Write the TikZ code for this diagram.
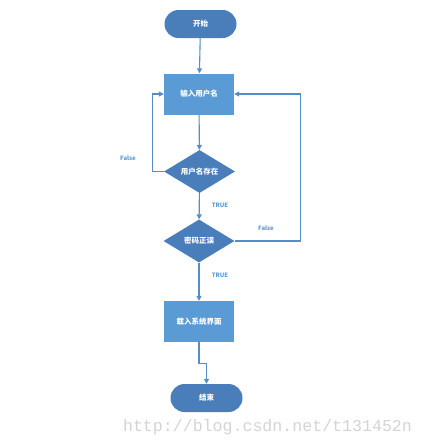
\documentclass[tikz,border=0pt]{standalone}
\usepackage{fontspec}
\newfontfamily\cjk{Noto Sans CJK SC}
\setmonofont{Liberation Mono}
\usepackage{tikz}
\usetikzlibrary{shapes,arrows.meta}
\usetikzlibrary{positioning}
\definecolor{darkblue}{RGB}{74,126,187}
\definecolor{lightblue}{RGB}{91,155,213}
\definecolor{lineblue}{RGB}{84,141,200}
\definecolor{markgray}{RGB}{212,212,212}

\begin{document}
\begin{tikzpicture}[x=1pt,y=-1pt,
    terminal/.style={rectangle,rounded corners=14pt,fill=darkblue,draw=none,
      minimum width=72pt,minimum height=28pt,text=white,font=\cjk\bfseries\fontsize{7.5}{8}\selectfont},
    process/.style={rectangle,fill=lightblue,draw=none,
      minimum width=70pt,minimum height=41pt,text=white,font=\cjk\bfseries\fontsize{7.5}{8}\selectfont},
    decision/.style={diamond,fill=darkblue,draw=none,inner sep=0pt,shape aspect=1.6,
      minimum width=71pt,minimum height=43pt,text=white,font=\cjk\bfseries\fontsize{7.5}{8}\selectfont},
    flow/.style={lineblue,line width=1.1pt,-{Triangle[length=5pt,width=5pt]}},
    branch/.style={text=lightblue,font=\cjk\bfseries\fontsize{6}{7}\selectfont}]
          \useasboundingbox (0,0) rectangle (424,445);
          \fill[white] (0,0) rectangle (424,445);
          \node[terminal] (start) at (200.5,24) {开始};
          \node[process] (login) at (199,94) {输入用户名};
          \node[decision] (user) at (199.5,171.5) {用户名存在};
          \node[decision] (pwd) at (199,241) {密码正误};
          \node[process] (main) at (199,321.5) {载入系统界面};
          \node[terminal] (end) at (206.5,398) {结束};
          \draw[flow] (start) -- (login);
          \draw[flow] (login) -- (user);
          \draw[flow] (user) -- (pwd);
          \draw[flow] (pwd) -- (main);
          \draw[flow] (main.south) -- ++(0,21) -| (end.north);
          % loops back to the input box
          \draw[flow] (user.west) -- ++(-11.5,0) |- (login.west);
          \draw[flow] (pwd.east) -- ++(65.5,0) |- (login.east);
          \node[branch] (nouser) at (128,158) {False};
          \node[branch] (nopwd) at (266,228) {False};
          \node[branch] (okuser) at (220,205) {TRUE};
          \node[branch] (okpwd) at (220,275) {TRUE};
          \node[text=markgray,font=\ttfamily\fontsize{16.6}{18}\selectfont] (mark) at (267.5,427) {http://blog.csdn.net/t131452n};
          \end{tikzpicture}
\end{document}
